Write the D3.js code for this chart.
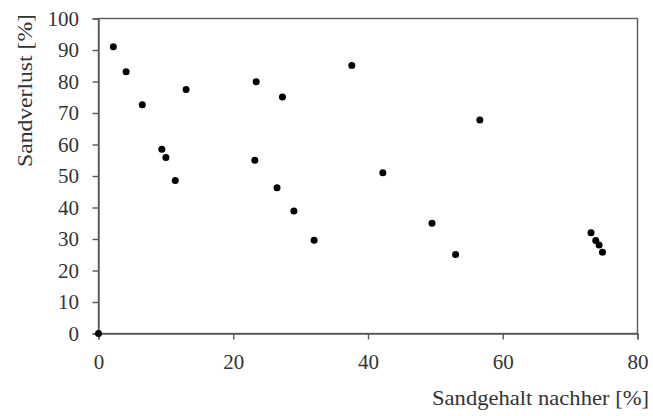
<html>
<head>
<meta charset="utf-8">
<style>
  body { margin: 0; background: #fff; }
  svg text { font-family: "Liberation Serif", "DejaVu Serif", serif; fill: #333; }
</style>
</head>
<body>
<svg width="653" height="416"></svg>
<script src="https://unpkg.com/d3@7/dist/d3.min.js"></script>
<script>
// Sandgehalt nachher [%] vs. Sandverlust [%]
const sandgehalt = [0, 2.2, 4.1, 6.5, 13.0, 9.4, 10.0, 11.4, 23.4, 27.3, 23.2, 26.5,
                    37.6, 42.2, 29.0, 32.0, 49.5, 56.6, 53.0, 73.1, 73.8, 74.3, 74.8];
const sandverlust = [0, 91.0, 83.1, 72.6, 77.5, 58.5, 55.9, 48.6, 79.9, 75.1, 55.0, 46.3,
                     85.1, 51.0, 38.9, 29.6, 35.0, 67.8, 25.1, 32.0, 29.5, 28.1, 25.8];
const xTicks = [0, 20, 40, 60, 80];
const yTicks = [0, 10, 20, 30, 40, 50, 60, 70, 80, 90, 100];

const svg = d3.select('svg');
const serif = '"Liberation Serif", "DejaVu Serif", serif';
const margin = {left: 98.5, top: 18.5, right: 637.5, bottom: 333.5};

const x = d3.scaleLinear().domain([0, 80]).range([margin.left, margin.right]);
const y = d3.scaleLinear().domain([0, 100]).range([margin.bottom, margin.top]);

const axisColor = '#5a5a5a';

// frame
svg.append('rect')
    .attr('x', margin.left).attr('y', margin.top)
    .attr('width', margin.right - margin.left)
    .attr('height', margin.bottom - margin.top)
    .attr('fill', 'none').attr('stroke', axisColor).attr('stroke-width', 1.4);

const xAxis = svg.append('g')
    .attr('transform', `translate(0,${margin.bottom})`)
    .call(d3.axisBottom(x).tickValues(xTicks).tickSize(6).tickPadding(14.5).tickFormat(d3.format('d')));

const yAxis = svg.append('g')
    .attr('transform', `translate(${margin.left},0)`)
    .call(d3.axisLeft(y).tickValues(yTicks).tickSize(6).tickPadding(13.5).tickFormat(d3.format('d')));

[xAxis, yAxis].forEach(a => {
    a.attr('font-family', serif).attr('font-size', 21);
    a.select('.domain').attr('stroke', axisColor).attr('stroke-width', 1.4);
    a.selectAll('.tick line').attr('stroke', axisColor).attr('stroke-width', 1.4);
    a.selectAll('.tick text').attr('fill', '#333');
});

svg.append('g').selectAll('circle')
    .data(sandgehalt.map((d, i) => [d, sandverlust[i]]))
    .enter().append('circle')
    .attr('cx', d => x(d[0]))
    .attr('cy', d => y(d[1]))
    .attr('r', 3.5)
    .attr('fill', '#000');

svg.append('text')
    .attr('x', 432).attr('y', 405)
    .attr('font-family', serif)
    .attr('font-size', 21)
    .attr('textLength', 217)
    .attr('lengthAdjust', 'spacingAndGlyphs')
    .text('Sandgehalt nachher [%]');

svg.append('text')
    .attr('transform', 'translate(32,167) rotate(-90)')
    .attr('font-family', serif)
    .attr('font-size', 21)
    .attr('textLength', 153)
    .attr('lengthAdjust', 'spacingAndGlyphs')
    .text('Sandverlust [%]');
</script>
</body>
</html>
